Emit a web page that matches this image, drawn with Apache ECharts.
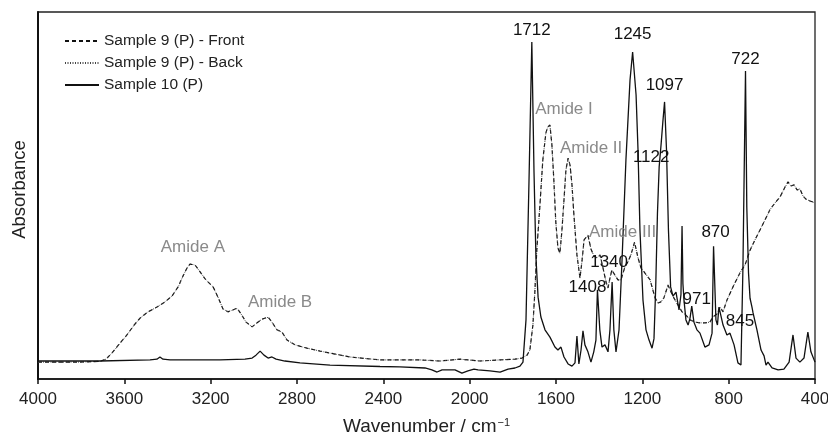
<!DOCTYPE html>
<html>
<head>
<meta charset="utf-8">
<script src="https://cdn.jsdelivr.net/npm/echarts@6/dist/echarts.min.js"></script>
<style>
  html, body { margin: 0; padding: 0; background: #fff; }
  #chart { width: 828px; height: 441px; }
</style>
</head>
<body>
<div id="chart"></div>
<script>
// FTIR absorbance spectra (arbitrary absorbance units, baseline-offset)

// Sample 10 (P)
const sample10Wn = [4000,3713,3481,3449,3435,3421,3388,3157,3041,3008,2990,2971,2953,2934,2916,2897,2856,2786,2647,2415,
  2323,2207,2175,2151,2128,2068,2036,2008,1980,1961,1906,1859,1822,1790,1767,1753,1739,1725,1712,1702,
  1693,1683,1670,1651,1628,1605,1591,1577,1563,1544,1526,1512,1503,1494,1484,1475,1466,1452,1438,1425,
  1415,1408,1397,1387,1373,1359,1350,1340,1332,1322,1308,1294,1276,1257,1245,1229,1220,1211,1197,1183,
  1169,1155,1146,1138,1130,1122,1113,1105,1097,1088,1079,1069,1058,1044,1030,1021,1016,1012,1007,998,
  988,979,971,961,947,933,910,891,877,870,859,852,845,826,808,794,775,757,743,734,
  722,716,708,701,692,687,669,650,636,627,618,599,571,544,520,502,488,470,451,433,
  419,400];
const sample10Abs = [0.049,0.049,0.052,0.054,0.060,0.054,0.052,0.052,0.054,0.057,0.065,0.076,0.065,0.057,0.060,0.054,0.049,0.044,0.038,0.034,
  0.033,0.030,0.025,0.019,0.025,0.025,0.016,0.022,0.027,0.025,0.022,0.019,0.027,0.030,0.035,0.046,0.161,0.542,0.918,0.567,
  0.332,0.223,0.169,0.134,0.114,0.087,0.079,0.087,0.060,0.041,0.035,0.044,0.117,0.041,0.079,0.131,0.093,0.074,0.046,0.074,
  0.106,0.243,0.134,0.087,0.093,0.074,0.134,0.264,0.134,0.074,0.134,0.324,0.597,0.815,0.891,0.774,0.624,0.406,0.215,0.134,
  0.106,0.084,0.110,0.250,0.450,0.578,0.640,0.700,0.755,0.624,0.406,0.251,0.226,0.237,0.188,0.230,0.417,0.260,0.215,0.161,
  0.147,0.166,0.199,0.155,0.134,0.125,0.087,0.093,0.125,0.362,0.161,0.147,0.196,0.147,0.120,0.125,0.093,0.044,0.038,0.300,
  0.839,0.469,0.289,0.220,0.196,0.180,0.134,0.079,0.063,0.038,0.046,0.030,0.025,0.027,0.046,0.120,0.057,0.046,0.057,0.128,
  0.074,0.046];

// Sample 9 (P): front and back faces share the same wavenumber grid
const sample9Wn = [4000,3805,3713,3685,3657,3620,3588,3555,3527,3490,3449,3412,3379,3351,3328,3310,3296,3287,3273,3249,
  3222,3189,3166,3143,3120,3097,3078,3059,3036,3008,2985,2962,2934,2916,2893,2870,2846,2809,2754,2693,
  2624,2554,2415,2230,2137,2045,1952,1859,1790,1758,1734,1721,1707,1698,1689,1675,1661,1647,1638,1628,
  1619,1610,1601,1591,1582,1573,1563,1554,1544,1535,1526,1517,1503,1489,1480,1470,1452,1438,1424,1410,
  1396,1382,1368,1359,1350,1341,1327,1313,1299,1281,1267,1253,1236,1220,1206,1192,1178,1164,1155,1141,
  1127,1114,1100,1081,1067,1054,1035,1016,998,979,956,933,910,887,873,854,840,826,808,780,
  748,724,701,678,655,632,609,585,562,539,525,511,497,483,470,456,442,423,400];
const sample9FrontAbs = [0.046,0.046,0.048,0.054,0.071,0.098,0.120,0.147,0.166,0.183,0.196,0.210,0.226,0.251,0.281,0.302,0.313,0.316,0.311,0.292,
  0.270,0.251,0.223,0.191,0.183,0.188,0.193,0.177,0.155,0.142,0.153,0.163,0.169,0.155,0.134,0.128,0.106,0.093,0.084,0.076,
  0.068,0.060,0.052,0.052,0.049,0.054,0.049,0.052,0.054,0.057,0.065,0.079,0.147,0.237,0.351,0.469,0.597,0.670,0.687,0.692,
  0.638,0.542,0.428,0.357,0.343,0.401,0.488,0.570,0.602,0.583,0.529,0.447,0.338,0.275,0.319,0.379,0.392,0.354,0.335,0.330,
  0.338,0.302,0.264,0.248,0.275,0.297,0.283,0.270,0.270,0.305,0.319,0.338,0.373,0.330,0.302,0.292,0.281,0.270,0.275,0.221,
  0.207,0.210,0.221,0.256,0.237,0.221,0.202,0.183,0.174,0.161,0.155,0.153,0.153,0.155,0.169,0.177,0.196,0.183,0.215,0.251,
  0.289,0.311,0.351,0.379,0.406,0.433,0.461,0.480,0.496,0.523,0.537,0.526,0.529,0.515,0.518,0.499,0.490,0.485,0.480];
const sample9BackAbs = [0.046,0.046,0.048,0.054,0.071,0.097,0.120,0.146,0.166,0.183,0.196,0.210,0.226,0.250,0.281,0.302,0.313,0.314,0.311,0.292,
  0.270,0.251,0.223,0.191,0.183,0.188,0.192,0.177,0.155,0.142,0.153,0.163,0.168,0.155,0.134,0.128,0.106,0.093,0.084,0.076,
  0.068,0.060,0.052,0.052,0.049,0.054,0.049,0.052,0.054,0.057,0.065,0.079,0.147,0.237,0.351,0.469,0.597,0.670,0.687,0.690,
  0.638,0.542,0.428,0.357,0.343,0.401,0.488,0.570,0.600,0.583,0.529,0.447,0.338,0.275,0.319,0.379,0.390,0.354,0.335,0.330,
  0.338,0.302,0.264,0.248,0.275,0.297,0.283,0.270,0.270,0.305,0.319,0.338,0.371,0.330,0.302,0.292,0.281,0.270,0.275,0.221,
  0.207,0.210,0.221,0.256,0.237,0.221,0.202,0.183,0.174,0.161,0.155,0.153,0.153,0.155,0.169,0.177,0.196,0.183,0.215,0.251,
  0.289,0.311,0.351,0.379,0.406,0.433,0.461,0.480,0.496,0.523,0.535,0.526,0.529,0.515,0.518,0.499,0.490,0.485,0.480];

// Band assignments
const peakWavenumbers = [1712, 1245, 1097, 1122, 722, 870, 971, 845, 1408, 1340];
const amideBands = ['Amide A', 'Amide B', 'Amide I', 'Amide II', 'Amide III'];
const amideWavenumbers = [3287, 2934, 1628, 1544, 1236];

const xTicks = { min: 400, max: 4000, step: 400 };
const legendNames = ['Sample 9 (P) - Front', 'Sample 9 (P) - Back', 'Sample 10 (P)'];

// label placement relative to each annotated point (px)
const peakLabelOffset = {
  1712: [0, -12], 1245: [0, -18], 1097: [0, -17], 1122: [-8, -10], 722: [0, -12],
  870: [2, -14], 971: [5, -7], 845: [21, 14], 1408: [-10, -3], 1340: [-3, -20]
};
const amideLabelOffset = [[1, -16], [12, -15], [14, -16], [23, -10], [-12, -10]];

const FONT = '"Liberation Sans", Arial, Helvetica, sans-serif';
const zip = (xs, ys) => xs.map((x, i) => [x, ys[i]]);

const peakMarks = peakWavenumbers.map(wn => ({
  coord: [wn, sample10Abs[sample10Wn.indexOf(wn)]],
  label: { formatter: String(wn), offset: peakLabelOffset[wn] }
}));
const amideMarks = amideBands.map((name, i) => ({
  coord: [amideWavenumbers[i], sample9FrontAbs[sample9Wn.indexOf(amideWavenumbers[i])]],
  label: { formatter: name, offset: amideLabelOffset[i] }
}));

const chart = echarts.init(document.getElementById('chart'), null, { renderer: 'canvas' });
chart.setOption({
  animation: false,
  backgroundColor: '#fff',
  textStyle: { fontFamily: FONT },
  grid: {
    left: 38, right: 13, top: 12, bottom: 62,
    containLabel: false, outerBoundsMode: 'none',
    show: true, borderColor: '#222', borderWidth: 1.3, backgroundColor: 'transparent'
  },
  legend: {
    orient: 'vertical', left: 64, top: 33,
    itemWidth: 34, itemHeight: 14, itemGap: 6, padding: 0,
    itemStyle: { opacity: 0, borderWidth: 0 },
    textStyle: { fontFamily: FONT, fontSize: 15.5, color: '#222' },
    data: legendNames
  },
  xAxis: {
    type: 'value', inverse: true,
    min: xTicks.min, max: xTicks.max, interval: xTicks.step,
    name: '{a|Wavenumber / cm}{s|−1}',
    nameLocation: 'middle', nameGap: 38,
    nameTextStyle: {
      rich: {
        a: { fontFamily: FONT, fontSize: 19, color: '#222' },
        s: { fontFamily: FONT, fontSize: 11, color: '#222', verticalAlign: 'top', padding: [0, 0, 0, 1] }
      }
    },
    axisLine: { show: true, lineStyle: { color: '#111', width: 1.5 } },
    axisTick: { show: true, inside: false, length: 5, lineStyle: { color: '#111', width: 1.5 } },
    axisLabel: { fontFamily: FONT, fontSize: 17, color: '#222', margin: 12, formatter: v => String(v) },
    splitLine: { show: false }
  },
  yAxis: {
    type: 'value', min: 0, max: 1,
    name: 'Absorbance', nameLocation: 'middle', nameGap: 9, nameRotate: 90,
    nameTextStyle: { fontFamily: FONT, fontSize: 18.5, color: '#222', padding: [0, 0, 0, 12] },
    axisLine: { show: true, lineStyle: { color: '#111', width: 2 } },
    axisTick: { show: false }, axisLabel: { show: false }, splitLine: { show: false }
  },
  series: [
    {
      name: legendNames[0], type: 'line', symbol: 'none', z: 2,
      data: zip(sample9Wn, sample9FrontAbs),
      lineStyle: { color: '#111', width: 1.2, type: [4, 3] },
      itemStyle: { color: '#111' },
      markPoint: {
        symbol: 'circle', symbolSize: 0, silent: true,
        label: { show: true, position: 'inside', fontFamily: FONT, fontSize: 17, color: '#8a8a8a' },
        data: amideMarks
      }
    },
    {
      name: legendNames[1], type: 'line', symbol: 'none', z: 2,
      data: zip(sample9Wn, sample9BackAbs),
      lineStyle: { color: '#444', width: 1, type: [1, 1.5] },
      itemStyle: { color: '#444' }
    },
    {
      name: legendNames[2], type: 'line', symbol: 'none', z: 3,
      data: zip(sample10Wn, sample10Abs),
      lineStyle: { color: '#111', width: 1.3 },
      itemStyle: { color: '#111' },
      markPoint: {
        symbol: 'circle', symbolSize: 0, silent: true,
        label: { show: true, position: 'inside', fontFamily: FONT, fontSize: 17, color: '#111' },
        data: peakMarks
      }
    }
  ]
});
</script>
</body>
</html>
